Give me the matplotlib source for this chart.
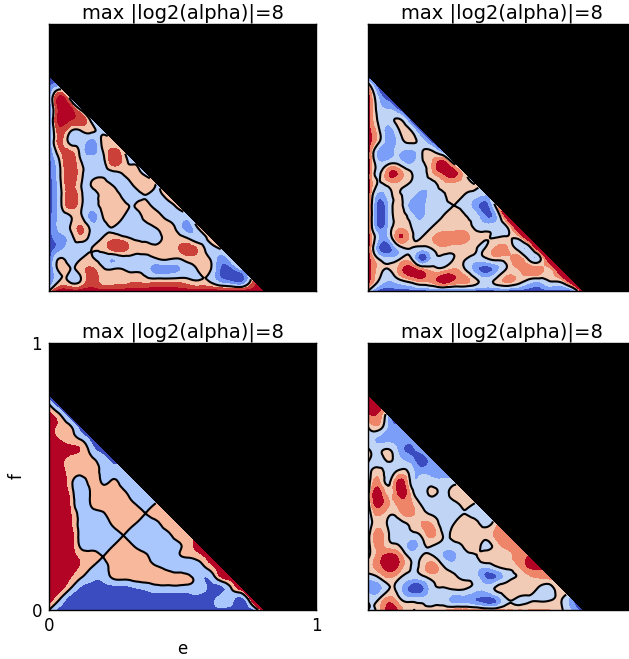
import matplotlib
matplotlib.use('Agg')
import matplotlib.pyplot as plt
import matplotlib.tri as mtri
import numpy as np

# valores leidos a ojo, una fila por cada f (de abajo hacia arriba)
step = 0.04

panel_a = [
    [0, 5, 5, 5, 5, 5, 5, 5, 5, 5, 5, 5, 5, 5, 5, 5, 5, 5, 5, 5, 5],
    [-5, 0, -0.5, 0.1, 3, 1, 1, 1, 1.5, 1, 1, 1, 1, 0.5, 0, -0.2, -3, -4.5, -5, 1],
    [-5, 0.5, 0, 1, 2.5, 0.5, 0.2, 0, -0.5, -1, -3, -3, -2.5, -1, 0.2, 0.5, -4, -5, -2],
    [-5, 0.2, -1, 0, 0.3, -1, -2, -1, -1, -1, -0.3, 0.3, -0.2, 1, 1, 0.2, -3, -1],
    [-5, -3, -1, -1, 0, 0.8, 3, 3, 1, 0.8, 0.7, 1, 1.8, 3, 1.5, -0.7, 0.2],
    [-5, -3, -1, 1.2, -0.8, 0, 1.2, 0.5, -0.5, -1, -1, 0.8, 1, -0.3, -1.5, 1],
    [-5, -1.5, 0.1, 2.2, -1, -1, 0, -1, -1, -1, 0.2, 1, -0.7, -3, 0.8],
    [-5, -1.5, -0.1, 0.3, -3, -0.1, 1, 0, -0.8, 0.6, 1, -0.6, -1, -1],
    [-5, -1, 3, 0.4, -1, 0.6, 1, 0.3, 0, 0.5, -0.7, -1, 0.4],
    [-5, -1, 3.2, 0.5, -1, 0.7, 1, -0.5, -0.7, 0, -0.6, 0.8],
    [-5, -0.7, 3, 0.1, 0.2, 1, -0.3, -1, 0.4, 1, 0],
    [-5, -0.4, 3.3, 0.6, -1, -0.8, -0.7, 0.2, 0.8, -0.5],
    [-5, 0, 3.5, 0.2, -1, -1, 3, 1, -0.2],
    [-5, 1.5, 2.5, -0.8, -3, -0.3, 3, 0.5],
    [-5, 2.5, -0.8, -1, -3, 0.5, 0.5],
    [-5, 3, 0.3, 0, 0.5, -1],
    [-5, 5, 4, 3.5, -1],
    [-5, 5, 5, -0.5],
    [-4, 5, -0.5],
    [-4, -1],
    [-5],
]

panel_b = [
    [0, -5, -5, -5, -5, -5, -5, -5, -5, -5, -5, -5, -5, -5, -5, -5, -5, -5, -5, -5, 5],
    [5, 0, -2, -0.3, 1.5, 3, 3, 5, 4, 3, 0.8, -1, 0.6, 2.5, 1.5, -0.4, -1.2, 0.2, 1, 7],
    [5, 1, 0, 3, 5, 3, 1.2, 1, 2.3, 0.4, -3, -5, -3, 0.3, 1.8, 3, 3, 1.5, 7],
    [5, 0, -1.5, 0, 0.5, -5, -1.5, -0.7, 0, 0.2, -1, -0.5, 0.8, 1.2, 3, -0.2, -1, 7],
    [5, -4, -5, -1, 0, -1, 0.2, 1.5, 1, 0.8, 0.2, 0.1, 2.5, 2.2, -0.7, -1.5, 7],
    [5, -2, -1.5, 4, 1, 0, 1.8, 3, 3, 3, 1, 0.2, 0, 0.3, 0.5, 7],
    [5, -4.5, -1.5, 1.5, 0.1, -1, 0, 1, 1.2, 1, -0.3, -1, -1, -0.1, 7],
    [5, -5, -1.7, 1, -1, -2.5, -0.5, 0, 1, 0.2, -1, -4, -2.5, 6],
    [5, -5, -1.7, 0.8, -3, -3, -1, -0.5, 0, -0.8, -3, -5, 1],
    [5, -3, -0.7, 0.1, -1, -3, -1, -0.3, 1, 0, -1, -2],
    [5, -0.3, 1, 1, -0.2, -1, -0.8, 1, 1.5, 1, 0],
    [5, -0.5, 4, 3, 0.3, -1, 1.5, 4, 5, 1],
    [5, -1.5, -0.6, -1, -2.5, -0.5, 2, 5, -0.5],
    [5, -3, -3, -2, -3, -0.3, 0.5, -3],
    [5, 0.5, -3, -1, 0.5, -1, -5],
    [5, 0.5, -3, 0.2, 0.2, -5],
    [5, -0.5, -1, 0.3, -5],
    [5, -1, -2, -5],
    [5, -2, -5],
    [3, -5],
    [-5],
]

panel_c = [
    [0, -3, -3, -3, -3, -3, -3, -3, -3, -3, -3, -3, -3, -3, -3, -3, -3, -3, -3, -3, 3],
    [3, 0, -3, -3, -3, -3, -3, -3, -3, -3, -3, -3, -3, -3, -3, -3, -1, -1, -3, 3],
    [3, 2.5, 0, -2.5, -3, -3, -3, -3, -2.3, -1.7, -1, -1, -1, -1, -1, -2.5, -3, -0.3, 3],
    [3, 3, 2, 0, -1.4, -1.6, 0.2, 0.5, 0.8, 1, 1, 1, 1, 0.5, -1, -1.9, 1.3, 3],
    [3, 3, 3, 1.5, 0, -0.8, 0.8, 1, 1, 1, 0.3, -0.5, -1, -1, -1, 0.8, 3],
    [3, 3, 3, 1.5, 1, 0, 1, 1, 1, 0.5, -1, -1, -0.3, 0.2, 1, 3],
    [3, 3, 3, -0.5, -1, -1, 0, 1, -0.1, -1, -1, -1, -0.5, 1, 3],
    [3, 3, 3, -0.9, -1, -1, -1, 0, -1, -1, -1, -0.8, 1, 1.5],
    [3, 3, 2.4, -0.9, -1, -1, 0.3, 1, 0, -1, -0.8, 1, 1.5],
    [3, 3, 2.2, -1, -1, -0.3, 1, 1, 1, 0, 1, 1.2],
    [3, 3, 1.8, -1.9, 0.5, 1, 1, 1, 0, -1, 0],
    [3, 3, 1.3, -1.9, 0.5, 1, 1, 0.4, -1, -1],
    [3, 3, 0.8, -1.3, 0.9, -0.2, 0.3, -1, -1],
    [3, 3, 1, 0.8, 1, -0.5, -1, -1.5],
    [3, 2.8, 1, 1, 0.5, -1, -2.5],
    [3, 3, 2.5, 1.8, -1, -3],
    [3, 1.9, 1, -0.2, -3],
    [3, 1.5, 0.5, -3],
    [3, 1, -3],
    [1, -3],
    [-3],
]

panel_d = [
    [0, 1, 5, 3, 0.2, 0.3, 1, 1.5, 3, 3, 3, 2, 2, 2, 2, 2, 2, 2, 0.5, -2, -5],
    [-0.5, 0, 3, 0.3, -1, -1.2, -1, -1, -3, -3, -4, -5, -4, -0.2, -0.4, -0.3, -0.3, -0.3, 0.2, -3],
    [-2.5, -3, 0, -1.5, -5, -5, -1, -0.2, 0.3, 0.2, -1, -1.5, 0.4, 1.5, 1.5, 0.8, -0.3, -1, 2],
    [-1.5, -0.2, 2, 0, -1.5, -1.2, 0.7, 1, 0.7, -0.5, -1, -4, -4, -1, 0.2, 1.3, 2, 2.5],
    [1.2, 3, 5, 3, 0, 0.8, 3, 0.5, -1, -1.2, -1.2, -2, -0.5, 0.6, 1.5, 4, 4.5],
    [-0.5, 3, 5, 3, -0.6, 0, 0.4, -2, -2.5, -1, -0.3, 1, 1, 1.5, 2.5, 4],
    [-1, 2.5, 1, -0.1, -3, -1, 0, -1, -1, 0.3, 1, -0.6, 1, 2.5, 3],
    [-1, 3, -0.1, -1, -0.8, 0.3, 2.5, 0, 0.5, 1, 1, 0.7, 2.5, 3],
    [-2, 1.5, -0.6, -1, 0.4, 2, 2, -0.8, 0, 1, 0.8, -0.5, 1.5],
    [-2, 2.5, 0.4, 1.5, 2.5, 1, -0.3, -1, -1, 0, -0.7, -1],
    [-1, 5, 2, 3, 2.5, -0.3, -1, -1, -0.5, 0.5, 0],
    [-1, 5, 1, 5, 1.5, -1, 0.4, -0.5, 0.8, 1],
    [-1.5, 2.5, -0.3, 5, -0.4, -1, -1, -1.5, -1],
    [-1, 0.8, -0.8, 0.6, -1, -3, -3, -3],
    [0.3, -0.8, 0.2, -1.5, -3, -5, -3],
    [0.2, -0.6, 0.1, -3, -4.5, -3],
    [-1, -2.5, -3, -3, -3],
    [-0.3, 0.8, -3, -3],
    [3, 3, -3],
    [5, 5],
    [5],
]

# niveles y tonos de cada panel
levels_six = [-60, -4, -2, 0, 2, 4, 60]
levels_four = [-40, -2, 0, 2, 40]
tones_a = [0.0, 0.17, 0.37, 0.63, 0.93, 1.0]
tones_six = [0.0, 0.2, 0.4, 0.6, 0.8, 1.0]
tones_c = [0.0, 1 / 3, 2 / 3, 1.0]

title_text = 'max |log2(alpha)|=8'


def dibujar(ax, rows, levels, tones):
    e, f, z, idx = [], [], [], {}
    for j, row in enumerate(rows):
        for i, val in enumerate(row):
            idx[(i, j)] = len(z)
            e.append(i * step)
            f.append(j * step)
            z.append(val)
    # triangulos con la arista en la direccion e=f, asi la diagonal sale recta
    triangles = []
    n = len(rows) - 1
    for j in range(n):
        for i in range(n - j):
            a, b, c = idx[(i, j)], idx[(i + 1, j)], idx[(i, j + 1)]
            if i + j + 2 <= n:
                d = idx[(i + 1, j + 1)]
                triangles.append([a, b, d])
                triangles.append([a, d, c])
            else:
                triangles.append([a, b, c])
    tri = mtri.Triangulation(np.array(e), np.array(f), triangles)
    # refinar para que las curvas salgan suaves
    refiner = mtri.UniformTriRefiner(tri)
    tri_fina, z_fina = refiner.refine_field(np.array(z, dtype=float), subdiv=3)
    colores = [plt.cm.coolwarm(t) for t in tones]
    ax.tricontourf(tri_fina, z_fina, levels=levels, colors=colores)
    ax.tricontour(tri_fina, z_fina, levels=[0], colors='black', linewidths=1.5)
    ax.set_facecolor('black')
    ax.set_xlim(0, 1)
    ax.set_ylim(0, 1)
    ax.set_title(title_text, fontsize=14, pad=4)
    ax.set_xticks([])
    ax.set_yticks([])
    for s in ax.spines.values():
        s.set_linewidth(1.0)


W, H = 629, 659
fig = plt.figure(figsize=(W / 100, H / 100), dpi=100)

# caja de cada eje en pixeles: izquierda, arriba
size = 267
corners = [(49, 24), (368, 24), (49, 343), (368, 343)]
axs = [fig.add_axes([x / W, 1 - (y + size) / H, size / W, size / H]) for x, y in corners]

dibujar(axs[0], panel_a, levels_six, tones_a)
dibujar(axs[1], panel_b, levels_six, tones_six)
dibujar(axs[2], panel_c, levels_four, tones_c)
dibujar(axs[3], panel_d, levels_six, tones_six)

axs[2].set_xticks([0, 1])
axs[2].set_yticks([0, 1])
axs[2].set_xticklabels(['0', '1'], fontsize=12)
axs[2].set_yticklabels(['0', '1'], fontsize=12)
axs[2].tick_params(length=0, pad=5)
axs[2].set_xlabel('e', fontsize=12, labelpad=4)
axs[2].set_ylabel('f', fontsize=12, labelpad=4)

fig.savefig('out.png', dpi=100)
